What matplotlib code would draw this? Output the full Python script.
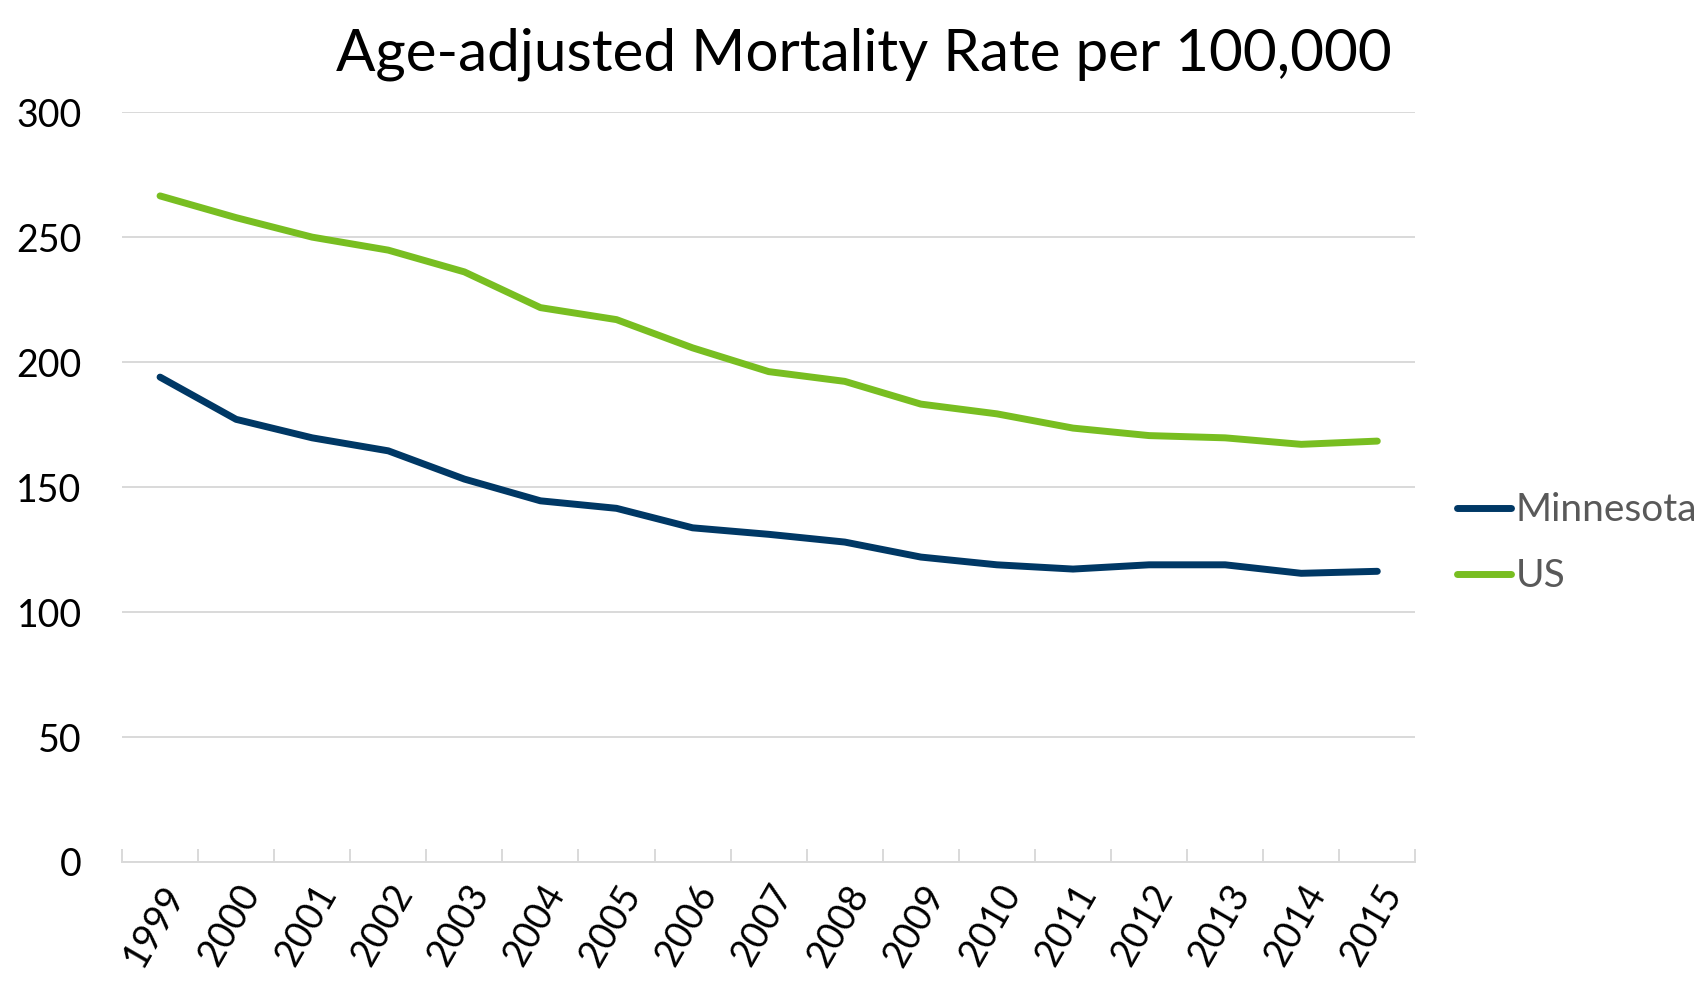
import matplotlib.pyplot as plt
import numpy as np

plt.rcParams['font.family'] = ['Lato', 'DejaVu Sans']

years = ['1999', '2000', '2001', '2002', '2003', '2004', '2005', '2006', '2007',
         '2008', '2009', '2010', '2011', '2012', '2013', '2014', '2015']
minnesota = [194.0, 177.1, 169.7, 164.5, 153.2, 144.5, 141.5, 133.7, 131.1,
             128.0, 122.0, 118.9, 117.2, 118.9, 118.9, 115.5, 116.3]
us = [266.5, 257.8, 250.0, 244.8, 236.1, 221.8, 217.0, 205.7, 196.2,
      192.3, 183.2, 179.3, 173.6, 170.6, 169.7, 167.1, 168.4]

fig = plt.figure(figsize=(17.04, 9.84), dpi=100)
ax = fig.add_axes([0.0716, 0.124, 0.759, 0.762])

x = np.arange(len(years))
ax.plot(x, minnesota, color='#003865', lw=5, solid_capstyle='round', label='Minnesota')
ax.plot(x, us, color='#78BE21', lw=5, solid_capstyle='round', label='US')

ax.set_xlim(-0.5, len(years) - 0.5)
ax.set_ylim(0, 300)
ax.set_yticks(range(0, 301, 50))
ax.grid(axis='y', color='#d9d9d9', lw=1.4)
ax.set_axisbelow(True)

for s in ['top', 'right', 'left']:
    ax.spines[s].set_visible(False)
ax.spines['bottom'].set_color('#d9d9d9')
ax.spines['bottom'].set_linewidth(1.4)

ax.set_xticks(x)
ax.set_xticklabels(years, rotation=60, ha='right', va='top', rotation_mode='anchor')
ax.set_xticks(np.arange(-0.5, len(years)), minor=True)
ax.tick_params(axis='x', which='major', length=0, pad=12, labelsize=27)
ax.tick_params(axis='x', which='minor', direction='in', length=9.5, width=1.4, color='#d9d9d9')
ax.tick_params(axis='y', length=0, pad=29, labelsize=27)

fig.text(0.507, 0.972, 'Age-adjusted Mortality Rate per 100,000', fontsize=42,
         ha='center', va='top')

leg = ax.legend(loc='center left', bbox_to_anchor=(1.005, 0.425), frameon=False,
                fontsize=28, handlelength=1.4, handletextpad=0.12, labelspacing=0.78)
for t in leg.get_texts():
    t.set_color('#595959')

fig.savefig('out.png', dpi=100)
